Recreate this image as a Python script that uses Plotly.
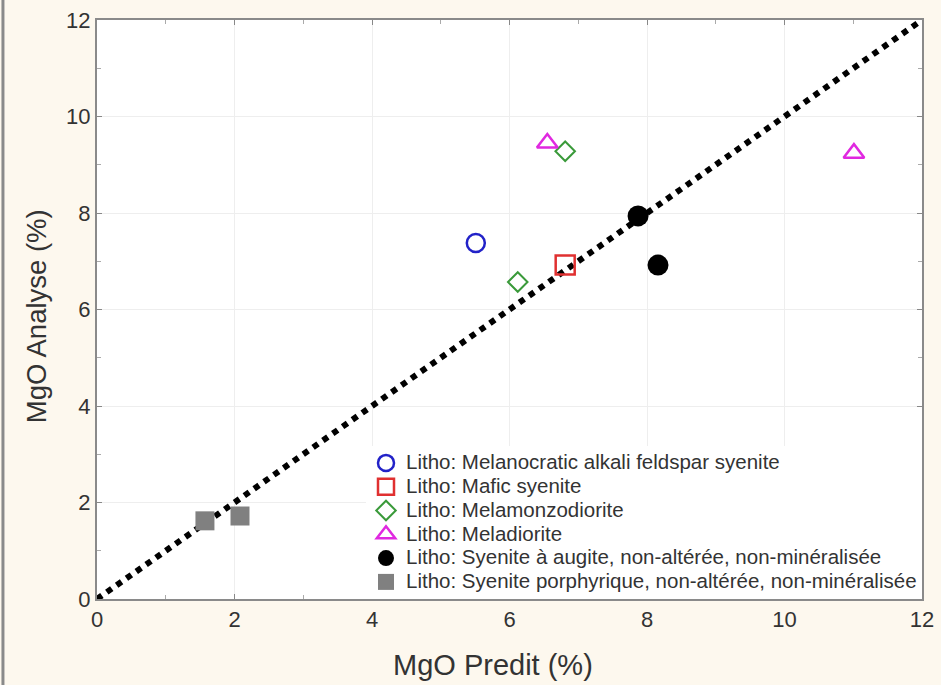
import plotly.graph_objects as go

# Data
series_names = [
    "Litho: Melanocratic alkali feldspar syenite",
    "Litho: Mafic syenite",
    "Litho: Melamonzodiorite",
    "Litho: Meladiorite",
    "Litho: Syenite à augite, non-altérée, non-minéralisée",
    "Litho: Syenite porphyrique, non-altérée, non-minéralisée",
]
x_melano = [5.51]
y_melano = [7.38]
x_mafic = [6.81]
y_mafic = [6.92]
x_melamonzo = [6.81, 6.12]
y_melamonzo = [9.28, 6.57]
x_meladio = [6.55, 11.01]
y_meladio = [9.45, 9.24]
x_augite = [7.87, 8.16]
y_augite = [7.94, 6.92]
x_porph = [1.57, 2.08]
y_porph = [1.62, 1.72]
line_x = [0, 12]
line_y = [0, 12]
tick_vals = [0, 2, 4, 6, 8, 10, 12]
x_title = "MgO Predit (%)"
y_title = "MgO Analyse (%)"

FONT = "Liberation Sans, Arial"

fig = go.Figure()
fig.add_trace(go.Scatter(x=line_x, y=line_y, mode="lines",
                         line=dict(color="black", width=6, dash="dot"),
                         showlegend=False, hoverinfo="skip"))

styles = [
    (x_melano, y_melano, dict(symbol="circle-open", size=18, color="#2222c8", line=dict(width=2.5, color="#2222c8"))),
    (x_mafic, y_mafic, dict(symbol="square-open", size=19, color="#e03030", line=dict(width=2.5, color="#e03030"))),
    (x_melamonzo, y_melamonzo, dict(symbol="diamond-open", size=15, color="#3a9a3a", line=dict(width=2, color="#3a9a3a"))),
    (x_meladio, y_meladio, dict(symbol="triangle-up-open", size=18, color="#e028e0", line=dict(width=2.5, color="#e028e0"))),
    (x_augite, y_augite, dict(symbol="circle", size=21, color="black", line=dict(width=0))),
    (x_porph, y_porph, dict(symbol="square", size=19, color="#808080", line=dict(width=0))),
]
for name, (xs, ys, mk) in zip(series_names, styles):
    fig.add_trace(go.Scatter(x=xs, y=ys, mode="markers",
                             name=f'<span style="font-size:20.5px">{name}</span>',
                             marker=mk))

axis_common = dict(
    range=[0, 12], tickvals=tick_vals, ticks="inside", ticklen=5, tickcolor="#888",
    showline=True, linecolor="#8a8a8a", linewidth=2, mirror="ticks",
    showgrid=True, gridcolor="#eeeeee", gridwidth=1, zeroline=False,
    tickfont=dict(family=FONT, size=22, color="#333"),
    minor=dict(dtick=1, tick0=0, ticks="inside", ticklen=4, tickcolor="#aaa", showgrid=False),
    fixedrange=True, automargin=False,
)
fig.update_xaxes(**axis_common)
fig.update_yaxes(**axis_common)

fig.update_layout(
    width=941, height=685,
    margin=dict(l=97, r=19, t=20, b=86),
    paper_bgcolor="#fdf8ee", plot_bgcolor="white",
    font=dict(family=FONT, color="#333"),
    legend=dict(x=1, y=0.0, xanchor="right", yanchor="bottom",
                bgcolor="white", borderwidth=0,
                font=dict(family=FONT, size=16, color="#333"),
                tracegroupgap=0, itemsizing="trace"),
    annotations=[
        dict(text=x_title, xref="paper", yref="paper", x=0.4806, y=-0.114,
             xanchor="center", yanchor="middle", showarrow=False,
             font=dict(family=FONT, size=29, color="#333")),
        dict(text=y_title, xref="paper", yref="paper", x=-0.073, y=0.488,
             xanchor="center", yanchor="middle", showarrow=False, textangle=-90,
             font=dict(family=FONT, size=27.5, color="#333")),
    ],
    shapes=[dict(type="line", xref="paper", yref="paper", x0=-0.114, x1=-0.114, y0=-0.2, y1=1.1,
                 line=dict(color="#8a8a8a", width=3))],
)

fig.write_html("out.html", config={"displayModeBar": False},
               post_script="document.body.style.margin='0';")
